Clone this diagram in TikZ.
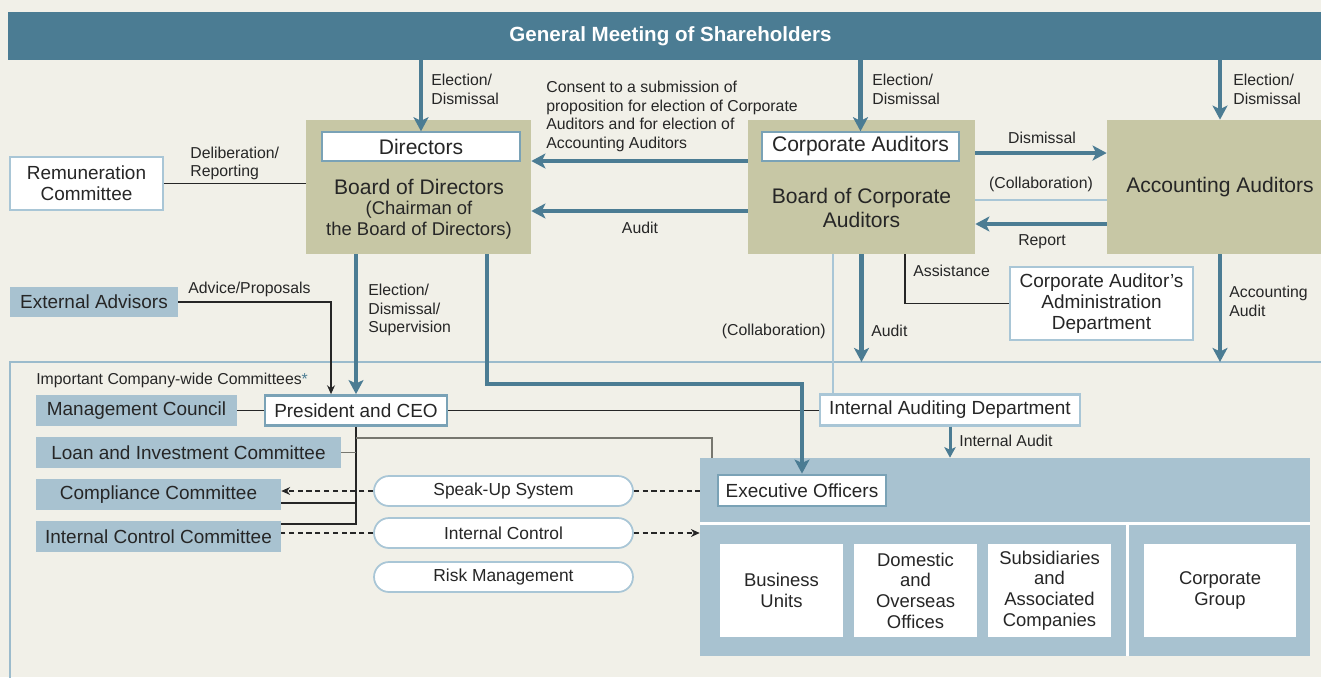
\documentclass[tikz,border=0pt]{standalone}
\usepackage{fontspec}
\setmainfont{Liberation Sans}
\usepackage{xcolor}
\usetikzlibrary{arrows.meta,calc,positioning}
\definecolor{cream}{HTML}{F1F0E8}
\definecolor{gmsblue}{HTML}{4B7C93}
\definecolor{khaki}{HTML}{C7C7A5}
\definecolor{paleblue}{HTML}{A8C2D0}
\definecolor{edgeblue}{HTML}{A9C6D6}
\definecolor{darkedge}{HTML}{7AA2B6}
\definecolor{inkgrey}{HTML}{262626}
\definecolor{linegrey}{HTML}{77776F}
\tikzset{%
	topbar/.style    = {fill=gmsblue, text=white, font=\fontsize{11.7}{14}\selectfont\bfseries, minimum width=26.5cm, minimum height=0.96cm, inner sep=0pt},
	board/.style     = {fill=khaki, inner sep=0pt, minimum height=2.68cm, font=\fontsize{12}{13.6}\selectfont, align=center},
	namebox/.style   = {draw=darkedge, line width=0.8pt, fill=white, inner sep=0pt, minimum height=0.58cm, font=\fontsize{12}{14}\selectfont},
	boardtext/.style = {inner sep=0pt, font=\fontsize{12}{13.6}\selectfont, align=center},
	subtext/.style   = {inner sep=0pt, font=\fontsize{10.5}{11.9}\selectfont, align=center},
	whitebox/.style  = {draw=edgeblue, line width=1.4pt, fill=white, inner sep=0pt, font=\fontsize{10.8}{11.9}\selectfont, align=center},
	headbox/.style   = {draw=darkedge, line width=1.6pt, fill=white, inner sep=0pt, font=\fontsize{10.8}{12}\selectfont},
	bluebox/.style   = {fill=paleblue, inner sep=0pt, minimum height=0.62cm, font=\fontsize{10.8}{12}\selectfont},
	pill/.style      = {draw=edgeblue, line width=1pt, fill=white, rounded corners=8.5pt, minimum width=5.18cm, minimum height=0.6cm, inner sep=0pt, font=\fontsize{9.9}{11}\selectfont},
	unitbox/.style   = {fill=white, inner sep=0pt, minimum height=1.86cm, align=center, font=\fontsize{10.5}{11.8}\selectfont},
	smalltext/.style = {inner sep=0pt, align=left, font=\fontsize{9}{10.6}\selectfont},
	bigarrow/.style  = {draw=gmsblue, line width=2.4pt, -{Stealth[length=8pt,width=8.5pt,inset=2pt]}},
	midarrow/.style  = {draw=gmsblue, line width=1.7pt, -{Stealth[length=6pt,width=6.5pt,inset=1.5pt]}},
	thinline/.style  = {draw=inkgrey, line width=0.6pt},
	greyline/.style  = {draw=linegrey, line width=0.9pt},
	thinarrow/.style = {thinline, -{Stealth[length=5pt,width=4.5pt]}},
	dashline/.style  = {thinline, dash pattern=on 3pt off 2pt},
	dasharrow/.style = {dashline, -{Stealth[length=5pt,width=4.5pt]}},
	collabline/.style= {draw=edgeblue, line width=1.6pt},
	outerframe/.style= {draw=edgeblue!85!gmsblue, line width=1.2pt},
}

\begin{document}
\begin{tikzpicture}[x=0.02cm,y=-0.02cm,every node/.style={text=inkgrey}]
	\fill[cream] (0,0) rectangle (1321,677);
	\useasboundingbox (0,0) rectangle (1321,677);
	
	% shareholders
	\node[topbar] (gms) at (670.5,36) {General Meeting of Shareholders};
	
	% boards
	\node[board, minimum width=4.5cm] (bod) at (418.5,187) {};
	\node[namebox, minimum width=3.96cm] (dir) at (421,146.5) {Directors};
	\node[boardtext] (bodtitle) at (419,187) {Board of Directors};
	\node[subtext] (bodsub) at (419,220) {(Chairman of\\the Board of Directors)};
	
	\node[board, minimum width=4.54cm] (bca) at (861.5,187) {};
	\node[namebox, minimum width=3.94cm] (ca) at (860.5,146.5) {Corporate Auditors};
	\node[boardtext] (bcatitle) at (861.5,208) {Board of Corporate\\Auditors};
	
	\node[board, minimum width=4.52cm] (aa) at (1220,187) {Accounting Auditors};
	
	\node[whitebox, minimum width=3.06cm, minimum height=1.06cm] (rem) at (86.5,183.5) {Remuneration\\Committee};
	\node[whitebox, minimum width=3.66cm, minimum height=1.46cm] (cad) at (1101.5,303.5) {Corporate Auditor’s\\Administration\\Department};
	
	% frame of the company
	\coordinate (ftop) at (10,362);
	\draw[outerframe] (1345,362) -- (10,362) -- (10,700);
	
	% executive area
	\node[fill=paleblue, minimum width=12.2cm, minimum height=3.96cm, inner sep=0pt] (exa) at (1005,557) {};
	\draw[white, line width=1.8pt] ([yshift=-1.32cm]exa.north west) -- ([yshift=-1.32cm]exa.north east);
	\draw[white, line width=1.8pt] ([xshift=8.56cm,yshift=-1.32cm]exa.north west) -- ([xshift=8.56cm]exa.south west);
	\node[headbox, minimum width=3.36cm, minimum height=0.62cm] (exo) at (802,490.5) {Executive Officers};
	\foreach \n/\x/\t in {bu/781.5/{Business\\Units}, doo/915.5/{Domestic\\and\\Overseas\\Offices}, sac/1049.5/{Subsidiaries\\and\\Associated\\Companies}}
		\node[unitbox, minimum width=2.46cm] (\n) at (\x,590.5) {\t};
	\node[unitbox, minimum width=3.04cm] (cg) at (1220,590.5) {Corporate\\Group};
	
	% committees
	\node[bluebox, minimum width=3.36cm, minimum height=0.6cm] (ext) at (94,302) {External Advisors};
	\node[bluebox, minimum width=4.02cm] (mc) at (136.5,410.5) {Management Council};
	\node[bluebox, minimum width=6.1cm] (lic) at (188.5,452.5) {Loan and Investment Committee};
	\node[bluebox, minimum width=4.9cm] (cc) at (158.5,494.5) {Compliance Committee};
	\node[bluebox, minimum width=4.9cm] (icc) at (158.5,536.5) {Internal Control Committee};
	\node[headbox, minimum width=3.64cm, minimum height=0.6cm] (pres) at (356,410.5) {President and CEO};
	\node[whitebox, minimum width=5.2cm, minimum height=0.62cm] (iad) at (950,410) {Internal Auditing Department};
	
	\node[pill] (sus) at (503.5,491) {Speak-Up System};
	\node[pill] (icp) at (503.5,533) {Internal Control};
	\node[pill] (rmp) at (503.5,577) {Risk Management};
	
	% upper connections
	\draw[bigarrow] (dir |- gms.south) -- (dir.north);
	\draw[bigarrow] (ca |- gms.south) -- (ca.north);
	\draw[bigarrow] (aa |- gms.south) -- (aa.north);
	\draw[bigarrow] ([yshift=0.52cm]bca.west) -- ([yshift=0.52cm]bod.east);
	\draw[bigarrow] ([yshift=-0.48cm]bca.west) -- ([yshift=-0.48cm]bod.east);
	\draw[bigarrow] ([yshift=0.68cm]bca.east) -- ([yshift=0.68cm]aa.west);
	\draw[collabline] ([yshift=-0.26cm]bca.east) -- ([yshift=-0.26cm]aa.west);
	\draw[bigarrow] ([yshift=-0.74cm]aa.west) -- ([yshift=-0.74cm]bca.east);
	\draw[thinline] (rem.east) -- (rem.east -| bod.west);
	
	% lower connections
	\draw[collabline] ([xshift=-0.57cm]bca.south) -- ([xshift=-0.57cm]bca.south |- iad.north);
	\draw[bigarrow] (bca.south) -- (bca.south |- ftop);
	\draw[bigarrow] (aa.south) -- (aa.south |- ftop);
	\draw[thinline] ([xshift=0.87cm]bca.south) |- (cad.west);
	\draw[thinline] (pres.east) -- (pres.east -| iad.west);
	\draw[bigarrow] (pres.north |- bod.south) -- (pres.north);
	\draw[bigarrow] ([xshift=1.37cm]bod.south) -- ++(0,130) -| (exo.north);
	\draw[thinarrow] (ext.east) -| ([xshift=-0.5cm]pres.north);
	\draw[thinline] (mc.east) -- (mc.east -| pres.west);
	\draw[midarrow] (iad.south) -- (iad.south |- exa.north);
	\draw[thinline] (pres.south) |- ([yshift=0.25cm]icc.east);
	\draw[greyline] (lic.east) -- (lic.east -| pres.south);
	\draw[thinline] ([yshift=-0.17cm]cc.east) -- ([yshift=-0.17cm]cc.east -| pres.south);
	\draw[greyline] ([yshift=-0.22cm]pres.south) -| ([xshift=0.24cm]exa.north west);
	\draw[dasharrow] (sus.west) -- (sus.west -| cc.east);
	\draw[dashline] (sus.east) -- (sus.east -| exa.west);
	\draw[dashline] (icp.west) -- (icp.west -| icc.east);
	\draw[dasharrow] (icp.east) -- (icp.east -| exa.west);
	
	% labels
	\node[smalltext, anchor=west] (lbdir) at (431,89.5) {Election/\\Dismissal};
	\node[smalltext, anchor=west] (lbca) at (872,89.5) {Election/\\Dismissal};
	\node[smalltext, anchor=west] (lbaa) at (1233,89.5) {Election/\\Dismissal};
	\node[smalltext, anchor=west] (lbcons) at (546,116.5) {Consent to a submission of\\proposition for election of Corporate\\Auditors and for election of\\Accounting Auditors};
	\node[smalltext, anchor=west] (lbdel) at (190,163.5) {Deliberation/\\Reporting};
	\node[smalltext] (lbaud) at (640,228) {Audit};
	\node[smalltext] (lbdis) at (1042,138) {Dismissal};
	\node[smalltext] (lbcol) at (1041,184) {(Collaboration)};
	\node[smalltext] (lbrep) at (1042,242) {Report};
	\node[smalltext, anchor=west] (lbass) at (913,271) {Assistance};
	\node[smalltext, anchor=east] (lbcol2) at (826,331) {(Collaboration)};
	\node[smalltext, anchor=west] (lbaud2) at (871,331) {Audit};
	\node[smalltext, anchor=west] (lbacc) at (1229,301.5) {Accounting\\Audit};
	\node[smalltext, anchor=west] (lbadv) at (188,289) {Advice/Proposals};
	\node[smalltext, anchor=west] (lbsup) at (368,310) {Election/\\Dismissal/\\Supervision};
	\node[smalltext, anchor=west] (lbimp) at (36,380) {Important Company-wide Committees{\color{gmsblue}*}};
	\node[smalltext, anchor=west] (lbint) at (959,441) {Internal Audit};
\end{tikzpicture}
\end{document}
